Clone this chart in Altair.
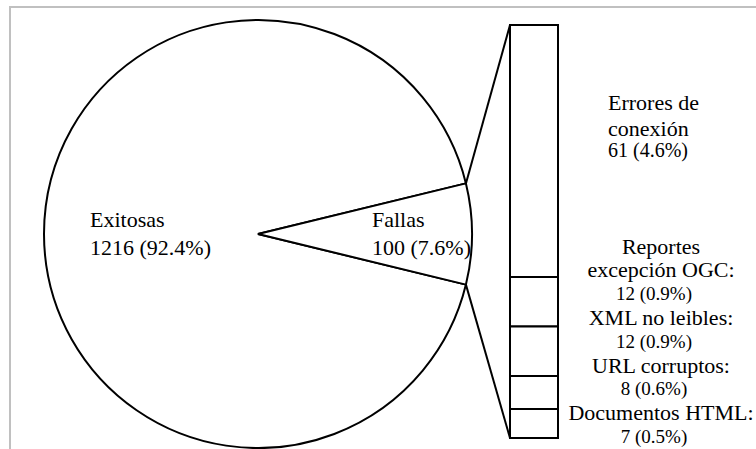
import math
import pandas as pd
import altair as alt

# ---------------- data ----------------
main_labels = ["Exitosas", "Fallas"]
main_values = [1216, 100]

sub_labels = ["Errores de\nconexión", "Reportes\nexcepción OGC:", "XML no leibles:",
              "URL corruptos:", "Documentos HTML:"]
sub_values = [61, 12, 12, 8, 7]

# ---------------- layout ----------------
W, H = 756, 449
CX, CY, R = 258, 234, 214
BAR_X0, BAR_X1, BAR_TOP, BAR_BOT = 510, 558, 25, 438
FONT = "Liberation Serif, Times New Roman, DejaVu Serif, serif"

total = sum(main_values)
sub_total = sum(sub_values)


def pct(v):
    return f"{v} ({100 * v / total:.1f}%)"


def bar_px(v):
    # same mapping as the bar's y scale
    return BAR_TOP + (BAR_BOT - BAR_TOP) * v / sub_total


# pie: the "Fallas" slice is centred on the 3 o'clock direction
half = math.pi * main_values[1] / total
start = math.pi / 2 - half
pie_df = pd.DataFrame({"label": main_labels, "value": main_values, "ord": [1, 0]})

pie = alt.Chart(pie_df).mark_arc(
    outerRadius=R, x=CX, y=CY, fill="white", stroke="black", strokeWidth=2
).encode(
    theta=alt.Theta("value:Q", stack=True,
                    scale=alt.Scale(range=[start, start + 2 * math.pi])),
    order=alt.Order("ord:Q"),
)

# pie labels (radial distance per label is layout)
lab_r = [168, 114]
mids = [start + 2 * half + (2 * math.pi - 2 * half) / 2, math.pi / 2]
pie_lab_df = pd.DataFrame({
    "txt": [f"{l}\n{pct(v)}" for l, v in zip(main_labels, main_values)],
    "px": [CX + r * math.sin(a) for r, a in zip(lab_r, mids)],
    "py": [CY - 7, CY - 7],
})
pie_text = alt.Chart(pie_lab_df).mark_text(
    font=FONT, fontSize=22, align="left", baseline="alphabetic",
    lineBreak="\n", lineHeight=28, color="black"
).encode(
    x=alt.X("px:Q", scale=None), y=alt.Y("py:Q", scale=None), text="txt:N"
)

# bar of the failures
cum = pd.Series(sub_values).cumsum()
bar_df = pd.DataFrame({
    "label": sub_labels,
    "value": sub_values,
    "y0": cum - pd.Series(sub_values),
    "y1": cum,
})
bar_df["mid"] = (bar_df["y0"] + bar_df["y1"]) / 2
bar_df["num"] = [pct(v) for v in sub_values]
name_off = [-41, -48, -26, -20, -4]
num_off = [6, -2, -3, 2, 19]
bar_df["name_y"] = [bar_px(m) + o for m, o in zip(bar_df["mid"], name_off)]
bar_df["num_y"] = [bar_px(m) + o for m, o in zip(bar_df["mid"], num_off)]
bar_df["first"] = [1, 0, 0, 0, 0]

ybar = alt.Scale(domain=[0, sub_total], range=[BAR_TOP, BAR_BOT])

bar = alt.Chart(bar_df).mark_rect(
    fill="white", stroke="black", strokeWidth=2
).encode(
    x=alt.value(BAR_X0), x2=alt.value(BAR_X1),
    y=alt.Y("y0:Q", scale=ybar, axis=None), y2="y1:Q",
)

# connector lines from the slice edges to the bar corners
a1, a2 = start, start + 2 * half
con_df = pd.DataFrame({
    "x": [CX + R * math.sin(a1), CX + R * math.sin(a2)],
    "y": [CY - R * math.cos(a1), CY - R * math.cos(a2)],
    "x2": [BAR_X0, BAR_X0],
    "y2": [bar_px(0), bar_px(sub_total)],
})
connectors = alt.Chart(con_df).mark_rule(color="black", strokeWidth=2).encode(
    x=alt.X("x:Q", scale=None), y=alt.Y("y:Q", scale=None),
    x2="x2:Q", y2="y2:Q",
)

base_lab = alt.Chart(bar_df)

first_name = base_lab.transform_filter("datum.first == 1").mark_text(
    font=FONT, fontSize=22, align="left", baseline="alphabetic",
    lineBreak="\n", lineHeight=26, x=608, color="black"
).encode(y=alt.Y("name_y:Q", scale=None), text="label:N")

first_num = base_lab.transform_filter("datum.first == 1").mark_text(
    font=FONT, fontSize=20, align="left", baseline="alphabetic",
    x=608, color="black"
).encode(y=alt.Y("num_y:Q", scale=None), text="num:N")

other_names = base_lab.transform_filter("datum.first == 0").mark_text(
    font=FONT, fontSize=22, align="center", baseline="alphabetic",
    lineBreak="\n", lineHeight=23, x=661, color="black"
).encode(y=alt.Y("name_y:Q", scale=None), text="label:N")

other_nums = base_lab.transform_filter("datum.first == 0").mark_text(
    font=FONT, fontSize=19, align="center", baseline="alphabetic",
    x=654, color="black"
).encode(y=alt.Y("num_y:Q", scale=None), text="num:N")

# light grey frame
frame = alt.Chart(pd.DataFrame({"a": [0]})).mark_rect(
    fill="transparent", stroke="#c0c0c0", strokeWidth=2
).encode(
    x=alt.value(10), y=alt.value(7), x2=alt.value(W + 40), y2=alt.value(H + 40)
)

chart = alt.layer(
    frame, pie, connectors, bar, pie_text,
    first_name, first_num, other_names, other_nums
).resolve_scale(
    x="independent", y="independent"
).properties(
    width=W, height=H, padding=0, autosize=alt.AutoSizeParams(type="none"),
    background="white"
).configure_view(stroke=None)

chart.save("out.html", embed_options={"renderer": "svg", "actions": False})
